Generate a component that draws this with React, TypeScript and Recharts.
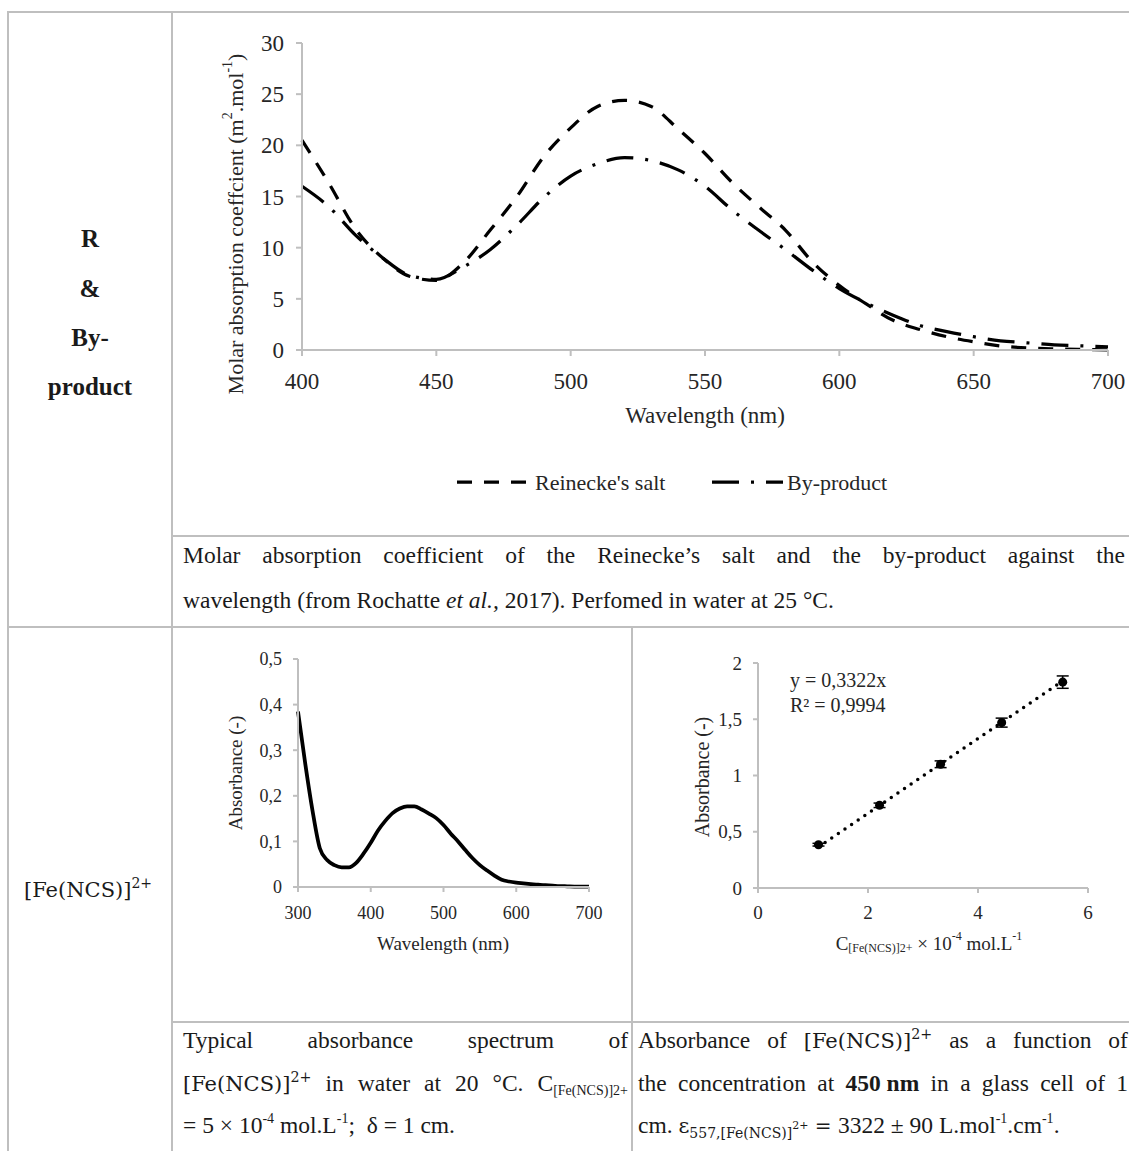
import React from 'react';
import { LineChart, Line, XAxis, YAxis, ComposedChart, Scatter, ErrorBar } from 'recharts';

const SERIF = '"Liberation Serif", "Times New Roman", serif';
const MATH = '"DejaVu Serif", serif';
const GRID = '#bfbfbf';
const INK = '#1a1a1a';
const TICK = '#262626';
const CAP = 23.5;

// ---- Top chart: molar absorption coefficient ----
const wavelengthsTop = [400, 410, 420, 430, 440, 450, 460, 470, 480, 490, 500, 510, 520, 530, 540, 550, 560, 570, 580, 590, 600, 610, 620, 630, 640, 650, 660, 670, 680, 690, 700];
const reineckeSalt = [20.5, 16.3, 11.8, 9.0, 7.2, 6.8, 8.5, 11.7, 15.0, 18.9, 21.7, 23.8, 24.4, 23.8, 21.6, 19.2, 16.4, 14.0, 11.7, 8.6, 6.3, 4.5, 2.9, 2.0, 1.3, 0.8, 0.4, 0.2, 0.1, 0.05, 0.0];
const byProduct = [16.0, 14.0, 11.2, 9.0, 7.3, 6.9, 8.1, 9.8, 12.2, 14.9, 17.0, 18.2, 18.8, 18.5, 17.6, 16.0, 13.7, 11.7, 9.8, 7.8, 6.0, 4.6, 3.4, 2.4, 1.8, 1.3, 0.9, 0.7, 0.5, 0.4, 0.3];
const topXTicks = [400, 450, 500, 550, 600, 650, 700];
const topYTicks = [0, 5, 10, 15, 20, 25, 30];
const seriesNames = ["Reinecke's salt", 'By-product'];

// ---- Bottom-left: [Fe(NCS)]2+ spectrum ----
const feWavelengths = [300, 310, 320, 330, 340, 350, 360, 370, 380, 390, 400, 410, 420, 430, 440, 450, 460, 470, 480, 490, 500, 510, 520, 530, 540, 550, 560, 570, 580, 590, 600, 610, 620, 630, 640, 650, 660, 670, 680, 690, 700];
const feAbsorbance = [0.385, 0.27, 0.167, 0.085, 0.059, 0.048, 0.043, 0.043, 0.053, 0.073, 0.097, 0.124, 0.145, 0.162, 0.172, 0.177, 0.177, 0.170, 0.161, 0.151, 0.136, 0.117, 0.100, 0.081, 0.063, 0.048, 0.036, 0.025, 0.016, 0.012, 0.0095, 0.008, 0.0065, 0.005, 0.004, 0.003, 0.002, 0.0015, 0.001, 0.001, 0.001];
const feXTicks = [300, 400, 500, 600, 700];
const feYTicks = [0, 0.1, 0.2, 0.3, 0.4, 0.5];

// ---- Bottom-right: calibration ----
const concentrations = [1.1, 2.21, 3.32, 4.43, 5.54];
const absorbances = [0.385, 0.735, 1.10, 1.47, 1.83];
const absErrors = [0.012, 0.02, 0.03, 0.04, 0.055];
const trendX = [1.1, 5.54];
const trendY = [0.365, 1.84];
const calXTicks = [0, 2, 4, 6];
const calYTicks = [0, 0.5, 1, 1.5, 2];
const equationLines = ['y = 0,3322x', 'R² = 0,9994'];

const topData = wavelengthsTop.map((w, i) => ({ wl: w, reinecke: reineckeSalt[i], byproduct: byProduct[i] }));
const feData = feWavelengths.map((w, i) => ({ wl: w, abs: feAbsorbance[i] }));
const calData = concentrations.map((c, i) => ({ x: c, y: absorbances[i], err: absErrors[i] }));
const trendData = trendX.map((x, i) => ({ x, y: trendY[i] }));

const commaFmt = (v: number) => String(v).replace('.', ',');

const axisLine = { stroke: GRID, strokeWidth: 2 };

function Sup({ children, size }: { children: React.ReactNode; size: number }) {
  return (
    <span style={{ fontSize: size, position: 'relative', top: -size * 0.75, lineHeight: 0 }}>{children}</span>
  );
}
function Sub({ children, size, drop = 4, font }: { children: React.ReactNode; size: number; drop?: number; font?: string }) {
  return (
    <span style={{ fontSize: size, position: 'relative', top: drop, lineHeight: 0, fontFamily: font }}>{children}</span>
  );
}
function FeNCS({ size }: { size: number }) {
  return (
    <span style={{ fontFamily: MATH, fontSize: size, whiteSpace: 'nowrap' }}>
      [Fe(NCS)]<span style={{ fontSize: size * 0.68, position: 'relative', top: -size * 0.42, lineHeight: 0 }}>2+</span>
    </span>
  );
}

function JLine({ x, y, w, parts, justify = true }: { x: number; y: number; w: number; parts: React.ReactNode[]; justify?: boolean }) {
  return (
    <div
      style={{
        position: 'absolute',
        left: x,
        top: y - 16,
        width: w,
        height: 32,
        lineHeight: '32px',
        display: 'flex',
        justifyContent: justify ? 'space-between' : 'flex-start',
        alignItems: 'baseline',
        whiteSpace: 'pre',
        fontFamily: SERIF,
        fontSize: CAP,
        color: INK,
      }}
    >
      {parts.map((p, i) => (
        <span key={i}>{p}</span>
      ))}
    </div>
  );
}

function TopChart() {
  return (
    <div style={{ position: 'absolute', left: 172, top: 12 }}>
      <LineChart width={957} height={524} data={topData} margin={{ top: 31, right: 21, left: 70, bottom: 156 }}>
        <XAxis
          dataKey="wl"
          type="number"
          domain={[400, 700]}
          ticks={topXTicks}
          interval={0}
          height={30}
          axisLine={axisLine}
          tickLine={axisLine}
          tickSize={6}
          tickMargin={17}
          tick={{ fill: TICK, fontSize: 23, fontFamily: SERIF }}
          label={() => (
            <text x={533} y={403} textAnchor="middle" dominantBaseline="central" fill={TICK} fontSize={23} fontFamily={SERIF}>
              Wavelength (nm)
            </text>
          )}
        />
        <YAxis
          type="number"
          domain={[0, 30]}
          ticks={topYTicks}
          interval={0}
          width={60}
          axisLine={axisLine}
          tickLine={axisLine}
          tickSize={6}
          tickMargin={12}
          tick={{ fill: TICK, fontSize: 23, fontFamily: SERIF }}
          label={() => (
            <text
              x={63}
              y={212}
              transform="rotate(-90 63 212)"
              textAnchor="middle"
              dominantBaseline="central"
              fill={TICK}
              fontSize={22}
              fontFamily={SERIF}
            >
              Molar absorption coeffcient (m<tspan dy={-8} fontSize={14}>2</tspan>
              <tspan dy={8}>.mol</tspan>
              <tspan dy={-8} fontSize={14}>-1</tspan>
              <tspan dy={8}>)</tspan>
            </text>
          )}
        />
        <Line
          dataKey="reinecke"
          name={seriesNames[0]}
          type="monotone"
          stroke="#000"
          strokeWidth={3.25}
          strokeDasharray="15 12"
          dot={false}
          isAnimationActive={false}
        />
        <Line
          dataKey="byproduct"
          name={seriesNames[1]}
          type="monotone"
          stroke="#000"
          strokeWidth={3.25}
          strokeDasharray="27 12 3 12"
          dot={false}
          isAnimationActive={false}
        />
      </LineChart>
    </div>
  );
}

function SpectrumChart() {
  return (
    <div style={{ position: 'absolute', left: 172, top: 627 }}>
      <LineChart width={460} height={395} data={feData} margin={{ top: 32, right: 43, left: 76, bottom: 105 }}>
        <XAxis
          dataKey="wl"
          type="number"
          domain={[300, 700]}
          ticks={feXTicks}
          interval={0}
          height={30}
          axisLine={axisLine}
          tickLine={axisLine}
          tickSize={5}
          tickMargin={14}
          tick={{ fill: TICK, fontSize: 18, fontFamily: SERIF }}
          label={() => (
            <text x={271} y={316} textAnchor="middle" dominantBaseline="central" fill={TICK} fontSize={19} fontFamily={SERIF}>
              Wavelength (nm)
            </text>
          )}
        />
        <YAxis
          type="number"
          domain={[0, 0.5]}
          ticks={feYTicks}
          interval={0}
          width={50}
          axisLine={axisLine}
          tickLine={axisLine}
          tickSize={5}
          tickMargin={11}
          tickFormatter={commaFmt}
          tick={{ fill: TICK, fontSize: 18, fontFamily: SERIF }}
          label={() => (
            <text
              x={63}
              y={146}
              transform="rotate(-90 63 146)"
              textAnchor="middle"
              dominantBaseline="central"
              fill={TICK}
              fontSize={19}
              fontFamily={SERIF}
            >
              Absorbance (-)
            </text>
          )}
        />
        <Line dataKey="abs" type="monotone" stroke="#000" strokeWidth={3.75} dot={false} isAnimationActive={false} />
      </LineChart>
    </div>
  );
}

function CalibrationChart() {
  return (
    <div style={{ position: 'absolute', left: 632, top: 627 }}>
      <ComposedChart width={497} height={395} margin={{ top: 36, right: 41, left: 76, bottom: 104 }}>
        <XAxis
          dataKey="x"
          type="number"
          domain={[0, 6]}
          ticks={calXTicks}
          interval={0}
          height={30}
          axisLine={axisLine}
          tickLine={axisLine}
          tickSize={5}
          tickMargin={13}
          tick={{ fill: TICK, fontSize: 19, fontFamily: SERIF }}
          label={() => (
            <text x={297} y={316} textAnchor="middle" dominantBaseline="central" fill={TICK} fontSize={19} fontFamily={SERIF}>
              C<tspan dy={5} fontSize={12}>[Fe(NCS)]2+</tspan>
              <tspan dy={-5}> × 10</tspan>
              <tspan dy={-7} fontSize={12}>-4</tspan>
              <tspan dy={7}> mol.L</tspan>
              <tspan dy={-7} fontSize={12}>-1</tspan>
            </text>
          )}
        />
        <YAxis
          dataKey="y"
          type="number"
          domain={[0, 2]}
          ticks={calYTicks}
          interval={0}
          width={50}
          axisLine={axisLine}
          tickLine={axisLine}
          tickSize={5}
          tickMargin={11}
          tickFormatter={commaFmt}
          tick={{ fill: TICK, fontSize: 19, fontFamily: SERIF }}
          label={() => (
            <text
              x={70}
              y={150}
              transform="rotate(-90 70 150)"
              textAnchor="middle"
              dominantBaseline="central"
              fill={TICK}
              fontSize={20}
              fontFamily={SERIF}
            >
              Absorbance (-)
            </text>
          )}
        />
        <Line
          data={trendData}
          dataKey="y"
          type="linear"
          stroke="#000"
          strokeWidth={3.5}
          strokeDasharray="0 8"
          strokeLinecap="round"
          dot={false}
          activeDot={false}
          legendType="none"
          isAnimationActive={false}
        />
        <Scatter data={calData} dataKey="y" fill="#000" shape="circle" isAnimationActive={false}>
          <ErrorBar dataKey="err" direction="y" width={6} stroke="#000" strokeWidth={1.5} />
        </Scatter>
      </ComposedChart>
    </div>
  );
}

export default function App() {
  return (
    <div style={{ position: 'absolute', left: 0, top: 0, width: 1129, height: 1151, background: '#fff', overflow: 'hidden' }}>
      <TopChart />
      <SpectrumChart />
      <CalibrationChart />

      <svg width={1129} height={1151} style={{ position: 'absolute', left: 0, top: 0, pointerEvents: 'none' }}>
        {/* table grid */}
        <g stroke={GRID} strokeWidth={2}>
          <line x1={7} y1={12} x2={1129} y2={12} />
          <line x1={8} y1={11} x2={8} y2={1151} />
          <line x1={172} y1={12} x2={172} y2={1151} />
          <line x1={172} y1={536} x2={1129} y2={536} />
          <line x1={8} y1={627} x2={1129} y2={627} />
          <line x1={632} y1={627} x2={632} y2={1151} />
          <line x1={172} y1={1022} x2={1129} y2={1022} />
        </g>

        {/* left column labels */}
        <g fontFamily={SERIF} fontWeight="bold" fontSize={25} fill={INK} textAnchor="middle">
          <text x={90} y={247}>R</text>
          <text x={90} y={297}>&amp;</text>
          <text x={90} y={346}>By-</text>
          <text x={90} y={395}>product</text>
        </g>
        <text x={24} y={897} fontFamily={MATH} fontSize={21} fill={INK}>
          [Fe(NCS)]<tspan dy={-9} fontSize={14}>2+</tspan>
        </text>

        {/* legend of top chart */}
        <line x1={457} y1={482} x2={527} y2={482} stroke="#000" strokeWidth={3.25} strokeDasharray="15 12" />
        <text x={535} y={482} dominantBaseline="central" fontFamily={SERIF} fontSize={22} fill={TICK}>
          {seriesNames[0]}
        </text>
        <line x1={712} y1={482} x2={783} y2={482} stroke="#000" strokeWidth={3.25} strokeDasharray="27 12 3 12" />
        <text x={787} y={482} dominantBaseline="central" fontFamily={SERIF} fontSize={22} fill={TICK}>
          {seriesNames[1]}
        </text>

        {/* trendline equation */}
        <g fontFamily={SERIF} fontSize={20} fill={TICK}>
          <text x={790} y={687}>{equationLines[0]}</text>
          <text x={790} y={712}>{equationLines[1]}</text>
        </g>
      </svg>

      {/* caption of top chart */}
      <JLine
        x={183}
        y={555}
        w={942}
        parts={['Molar', 'absorption', 'coefficient', 'of', 'the', 'Reinecke’s', 'salt', 'and', 'the', 'by-product', 'against', 'the']}
      />
      <JLine
        x={183}
        y={600}
        w={942}
        justify={false}
        parts={[
          <>
            wavelength (from Rochatte <i>et al.,</i> 2017). Perfomed in water at 25 °C.
          </>,
        ]}
      />

      {/* caption bottom-left */}
      <JLine x={183} y={1040} w={445} parts={['Typical', 'absorbance', 'spectrum', 'of']} />
      <JLine
        x={183}
        y={1083}
        w={445}
        parts={[
          <FeNCS size={21} />,
          'in',
          'water',
          'at',
          '20',
          '°C.',
          <>
            C<Sub size={14}>[Fe(NCS)]2+</Sub>
          </>,
        ]}
      />
      <JLine
        x={183}
        y={1125}
        w={445}
        justify={false}
        parts={[
          <>
            = 5 × 10<Sup size={14}>-4</Sup> mol.L<Sup size={14}>-1</Sup>;  δ = 1 cm.
          </>,
        ]}
      />

      {/* caption bottom-right */}
      <JLine
        x={638}
        y={1040}
        w={490}
        parts={['Absorbance', 'of', <FeNCS size={21} />, 'as', 'a', 'function', 'of']}
      />
      <JLine
        x={638}
        y={1083}
        w={490}
        parts={['the', 'concentration', 'at', <b>450 nm</b>, 'in', 'a', 'glass', 'cell', 'of', '1']}
      />
      <JLine
        x={638}
        y={1125}
        w={490}
        justify={false}
        parts={[
          <>
            cm. <span style={{ fontFamily: MATH, fontSize: 21 }}>ε</span>
            <Sub size={14} drop={5} font={MATH}>
              557,[Fe(NCS)]<span style={{ fontSize: 11, position: 'relative', top: -9 }}>2+</span>
            </Sub>
            <span style={{ fontFamily: MATH, fontSize: 20 }}> = </span>3322 ± 90 L.mol<Sup size={14}>-1</Sup>.cm<Sup size={14}>-1</Sup>.
          </>,
        ]}
      />
    </div>
  );
}
